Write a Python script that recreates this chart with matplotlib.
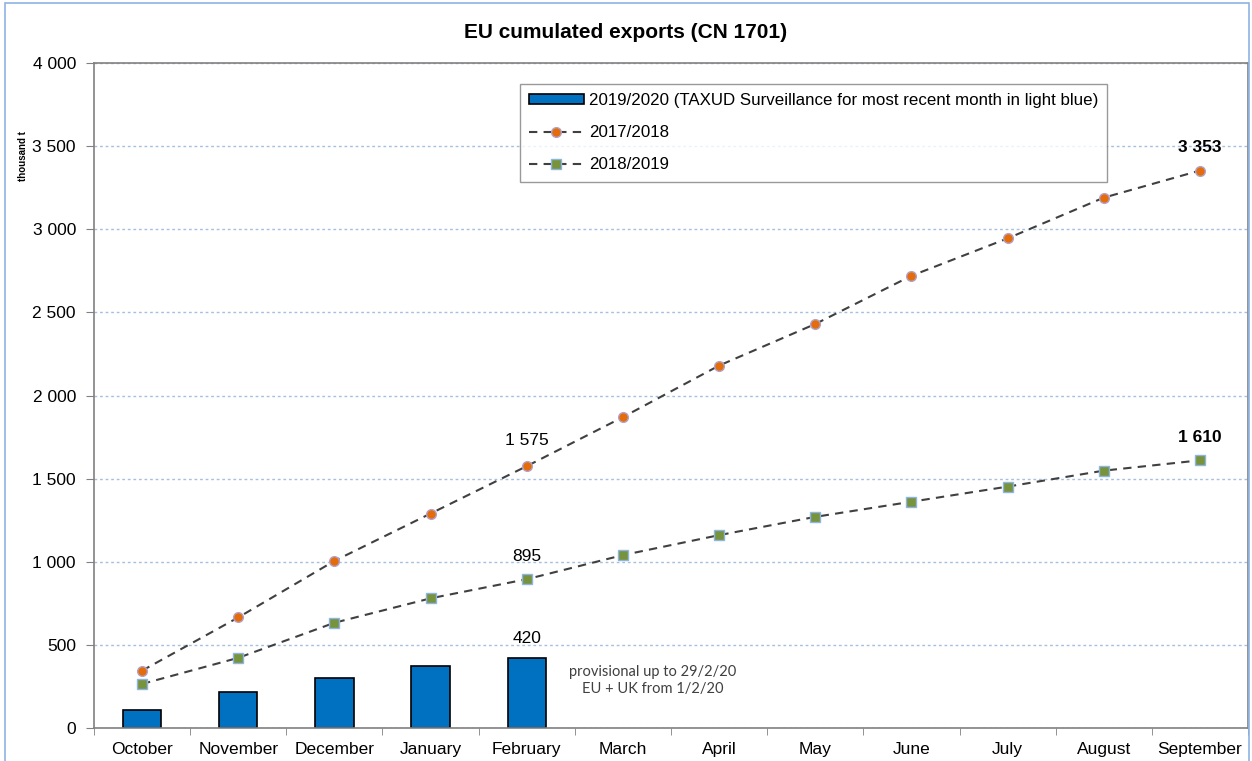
import numpy as np
import matplotlib
matplotlib.use('Agg')
import matplotlib.pyplot as plt
from matplotlib.patches import Rectangle
from matplotlib.ticker import FuncFormatter

plt.rcParams['font.family'] = ['Liberation Sans', 'DejaVu Sans']

# data (thousand t)
months = ['October', 'November', 'December', 'January', 'February', 'March',
          'April', 'May', 'June', 'July', 'August', 'September']
exp_1920 = [108, 217, 301, 373, 420]
exp_1718 = [345, 665, 1005, 1290, 1575, 1870, 2180, 2430, 2720, 2945, 3190, 3353]
exp_1819 = [265, 422, 633, 780, 895, 1040, 1160, 1270, 1361, 1452, 1548, 1610]

fig = plt.figure(figsize=(12.52, 7.61), dpi=100)
ax = fig.add_axes([94 / 1252, 1 - 728 / 761, (1248 - 94) / 1252, (728 - 63) / 761])

# light blue frame round the chart
fig.patches.append(Rectangle((5 / 1252, -0.05), (1249 - 5) / 1252, 1.05 - 3 / 761,
                             transform=fig.transFigure, fill=False,
                             edgecolor='#8EB4E3', linewidth=1.2))

x = np.arange(len(months))
ax.bar(x[:len(exp_1920)], exp_1920, width=0.4, color='#0070C0', edgecolor='black',
       linewidth=1.2, zorder=2,
       label='2019/2020 (TAXUD Surveillance for most recent month in light blue)')
ax.plot(x, exp_1718, linestyle=(0, (4, 3)), color='#404040', linewidth=1.5,
        marker='o', markersize=7, markerfacecolor='#E46C0A', markeredgecolor='#B3A2C7',
        markeredgewidth=1, zorder=3, label='2017/2018')
ax.plot(x, exp_1819, linestyle=(0, (4, 3)), color='#404040', linewidth=1.5,
        marker='s', markersize=7, markerfacecolor='#77933C', markeredgecolor='#8EB4E3',
        markeredgewidth=1, zorder=3, label='2018/2019')

ax.set_xlim(-0.5, 11.5)
ax.set_ylim(0, 4000)
ax.set_yticks(np.arange(0, 4001, 500))
ax.yaxis.set_major_formatter(FuncFormatter(lambda v, p: '{:,.0f}'.format(v).replace(',', ' ')))
ax.set_xticks(x)
ax.set_xticklabels(months)
ax.set_xticks(np.arange(-0.5, 12, 1), minor=True)
ax.tick_params(axis='x', which='major', length=0, labelsize=12.5, pad=10)
ax.tick_params(axis='x', which='minor', length=5, direction='out', color='#808080')
ax.tick_params(axis='y', length=6, direction='out', color='#808080', labelsize=12.5, pad=7)
ax.grid(axis='y', color='#A6C0E0', linestyle=(0, (2, 2)), linewidth=1)
ax.set_axisbelow(True)
for s in ax.spines.values():
    s.set_color('#808080')
    s.set_linewidth(1.2)

ax.set_ylabel('thousand t', fontsize=7, fontweight='bold')
ax.yaxis.set_label_coords(-0.057, 0.86)

fig.text(0.5, 1 - 33 / 761, 'EU cumulated exports (CN 1701)', ha='center', va='center',
         fontsize=15, fontweight='bold')

# value labels
ax.annotate('1 575', (4, exp_1718[4]), xytext=(0, 26), textcoords='offset pixels',
            ha='center', va='center', fontsize=12.5)
ax.annotate('895', (4, exp_1819[4]), xytext=(0, 23), textcoords='offset pixels',
            ha='center', va='center', fontsize=12.5)
ax.annotate('420', (4, exp_1920[4]), xytext=(0, 20), textcoords='offset pixels',
            ha='center', va='center', fontsize=12.5)
ax.annotate('3 353', (11, exp_1718[11]), xytext=(0, 23), textcoords='offset pixels',
            ha='center', va='center', fontsize=12.5, fontweight='bold')
ax.annotate('1 610', (11, exp_1819[11]), xytext=(0, 23), textcoords='offset pixels',
            ha='center', va='center', fontsize=12.5, fontweight='bold')

ax.text(5.31, 380, 'provisional up to 29/2/20\nEU + UK from 1/2/20', ha='center', va='top',
        fontsize=10.5, color='#404040', family=['Lato', 'DejaVu Sans'], linespacing=1.25)

handles, labels = ax.get_legend_handles_labels()
order = [2, 0, 1]
leg = ax.legend([handles[i] for i in order], [labels[i] for i in order],
                loc='upper left', bbox_to_anchor=((520 - 94) / 1154, 1 - (84 - 63) / 665),
                fontsize=12.2, frameon=True, fancybox=False, edgecolor='#808080',
                handlelength=3.2, handleheight=0.5, labelspacing=1.0, borderpad=0.55,
                handletextpad=0.3, borderaxespad=0)
leg.get_frame().set_linewidth(1.0)

fig.savefig('out.png', dpi=100)
